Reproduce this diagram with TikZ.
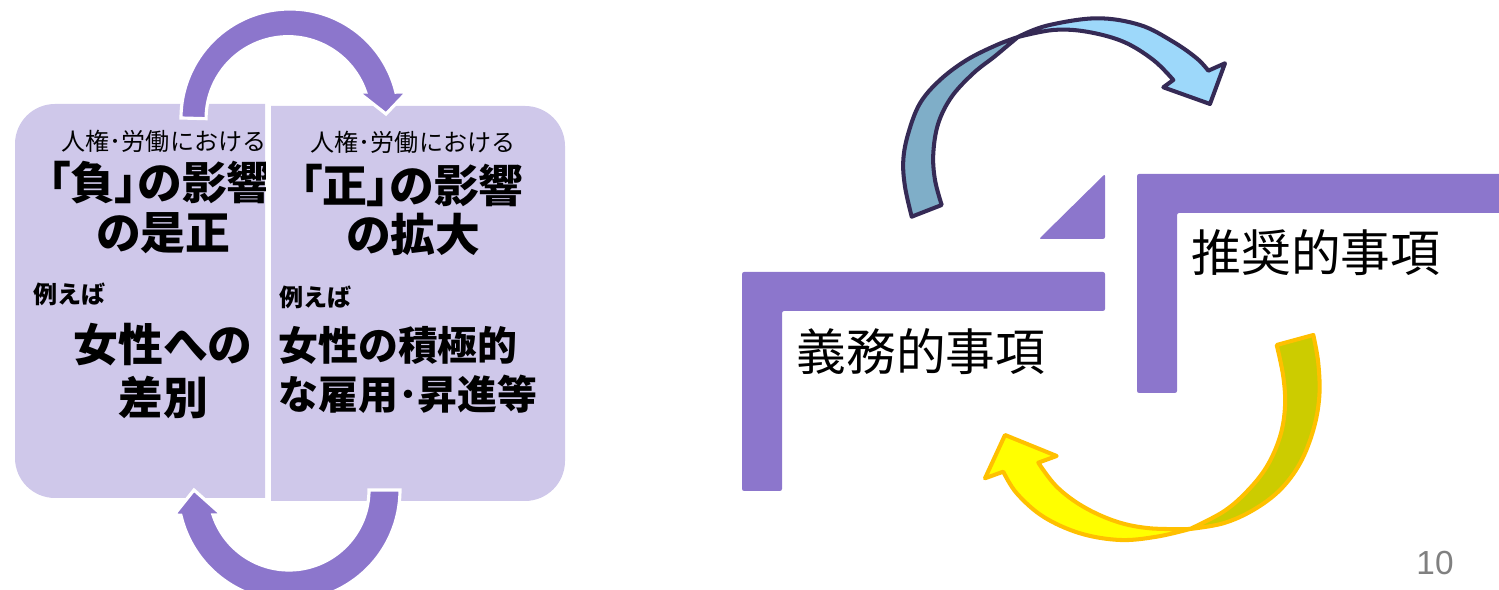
\documentclass[tikz,border=0pt]{standalone}
\usepackage{fontspec}
\newfontfamily\jp{Noto Sans CJK JP}
\newfontfamily\jpp[RawFeature=+palt]{Noto Sans CJK JP}
\newfontfamily\numfont{Liberation Sans}
\definecolor{lav}{HTML}{CFC8EA}
\definecolor{purp}{HTML}{8C76CC}
\definecolor{bluefront}{HTML}{9DD8FA}
\definecolor{blueback}{HTML}{7FAEC8}
\definecolor{blueline}{HTML}{352A55}
\definecolor{yelfront}{HTML}{FFFF00}
\definecolor{yelback}{HTML}{CCCC00}
\definecolor{yelline}{HTML}{FFC000}
\definecolor{pgnum}{HTML}{808080}
\newcommand\jpsz[1]{\fontsize{#1pt}{#1pt}\selectfont}
\begin{document}
\begin{tikzpicture}[x=0.02cm,y=0.02cm,
  txt/.style={inner sep=0pt, text=black},
  smallhdr/.style={txt, font=\jp\jpsz{13.7}},
  bighdr/.style={txt, font=\jpp\bfseries\jpsz{25.5}},
  eg/.style={txt, anchor=west, font=\jp\bfseries\jpsz{13.7}},
  bodyL/.style={txt, font=\jp\bfseries\jpsz{25.5}},
  bodyR/.style={txt, anchor=west, font=\jp\bfseries\jpsz{22.7}},
  frametxt/.style={txt, font=\jp\jpsz{28.3}},
  cyclearrow/.style={fill=purp, draw=white, line width=1.8pt, line join=miter},
  frame/.style={fill=purp, rounded corners=1.2pt},
  bluebk/.style={fill=blueback, draw=blueline, line width=2.3pt, line join=round},
  bluefr/.style={fill=bluefront, draw=blueline, line width=2.3pt, line join=round},
  yelbk/.style={fill=yelback, draw=yelline, line width=2.3pt, line join=round},
  yelfr/.style={fill=yelfront, draw=yelline, line width=2.3pt, line join=round}]
\useasboundingbox (0,0) rectangle (1499,590);
% ---- left panel boxes
\fill[lav] (265,486) -- (55,486) arc[start angle=90,end angle=180,radius=40]
  -- (15,132) arc[start angle=180,end angle=270,radius=40] -- (265,92) -- cycle;
\fill[lav] (271,484) -- (525,484) arc[start angle=90,end angle=0,radius=40]
  -- (565,129) arc[start angle=0,end angle=-90,radius=40] -- (271,89) -- cycle;
% ---- cycle arrows
\filldraw[cyclearrow] (181,472) arc[start angle=180,end angle=13.7,radius=109]
  -- (407,498) -- (386,476) -- (358,498) -- (365.6,498)
  arc[start angle=19,end angle=180,radius=82] -- cycle;
\filldraw[cyclearrow] (400,100) arc[start angle=0,end angle=-166.9,radius=111]
  -- (174,75) -- (194,100) -- (222,75) -- (213,75)
  arc[start angle=-161.8,end angle=0,radius=80] -- cycle;
% ---- left panel texts
\begin{scope}
\clip (15,92) rectangle (265,486);
\node[smallhdr] (l1) at (164,449) {人権･労働における};
\node[bighdr] (l2) at (160,407) {「負」の影響};
\end{scope}
\node[bighdr] (l3) at (163,357) {の是正};
\node[eg] (l4) at (33,296) {例えば};
\node[bodyL] (l5) at (163,245) {女性への};
\node[bodyL] (l6) at (163,193) {差別};
\node[smallhdr] (r1) at (413,448) {人権･労働における};
\node[bighdr] (r2) at (412,405) {「正」の影響};
\node[bighdr] (r3) at (413,356) {の拡大};
\node[eg] (r4) at (279,293) {例えば};
\node[bodyR] (r5) at (278,245) {女性の積極的};
\node[bodyR] (r6) at (278,196) {な雇用･昇進等};
% ---- right panel frames
\fill[frame] (742,99) -- (742,318) -- (1105,318) -- (1105,279) -- (782,279) -- (782,99) -- cycle;
\fill[frame] (1137,197) -- (1137,416) -- (1505,416) -- (1505,377) -- (1177,377) -- (1177,197) -- cycle;
\fill[frame] (1105,416) -- (1039,351) -- (1105,351) -- cycle;
\node[frametxt] (f1) at (1316,337) {推奨的事項};
\node[frametxt] (f2) at (921,238) {義務的事項};
% ---- blue arrow
\filldraw[bluebk] (911.7,373.3) -- plot[smooth,tension=0.6] coordinates {(911.7,373.3) (905,403.3) (903.3,430) (908.3,456.7) (920,486.7) (940,510) (966.7,530) (996.7,545) (1018,553)}
  -- plot[smooth,tension=0.6] coordinates {(1018,553) (1008,544.7) (994,533) (973.3,516.7) (951.7,493.3) (938.3,466.7) (933.3,436.7) (935,410) (941.7,385)} -- cycle;
\filldraw[bluefr] (1018,553) -- plot[smooth,tension=0.6] coordinates {(1018,553) (1046.7,564.3) (1096.7,571.7) (1140,565) (1173,548.3) (1196.7,531.7) (1208.3,519.3)}
  -- (1225,526.7) -- (1210,486) -- (1163.3,502.7) -- (1173.3,510)
  -- plot[smooth,tension=0.6] coordinates {(1173.3,510) (1153.3,530) (1123.3,548.3) (1086.7,558.3) (1053.3,560) (1018,553)} -- cycle;
% ---- yellow arrow
\filldraw[yelbk] (1313.3,255) -- plot[smooth,tension=0.6] coordinates {(1313.3,255) (1318.3,226.7) (1319.3,193.3) (1313.3,160) (1300,126.7) (1280,100) (1253.3,80) (1223.3,66.7) (1190,61)}
  -- plot[smooth,tension=0.6] coordinates {(1190,61) (1223.3,78.3) (1246.7,98.3) (1266.7,123.3) (1280,153.3) (1285,183.3) (1283.3,213.3) (1276.7,245)} -- cycle;
\filldraw[yelfr] (1190,61) -- plot[smooth,tension=0.6] coordinates {(1190,61) (1156.7,53.3) (1120,50) (1080,56.7) (1043.3,73.3) (1016.7,96.7) (1003.3,118.3)}
  -- (985,111.7) -- (1005,155) -- (1056.7,134) -- (1038.3,127.3)
  -- plot[smooth,tension=0.6] coordinates {(1038.3,127.3) (1056.7,103.3) (1083.3,83.3) (1116.7,68.3) (1150,61.7) (1190,61)} -- cycle;
% ---- page number
\node[txt, text=pgnum, font=\numfont\fontsize{19pt}{19pt}\selectfont] (pg) at (1435,27) {10};
\end{tikzpicture}
\end{document}
